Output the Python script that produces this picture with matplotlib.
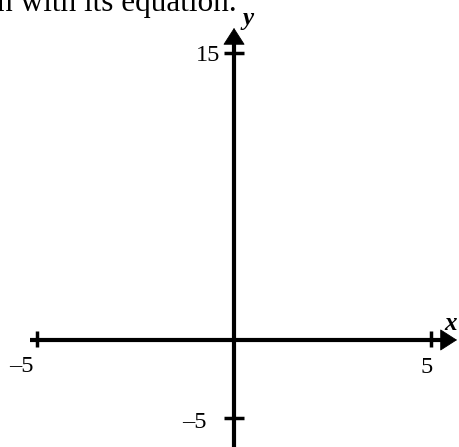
import numpy as np
import matplotlib
matplotlib.use("Agg")
import matplotlib.pyplot as plt

# axis ticks and labels
x_ticks = [-5, 5]
x_tick_labels = ["\u20135", "5"]
y_ticks = [15, -5]
y_tick_labels = ["15", "\u20135"]
x_range = [-5.94, 5.71]
y_range = [-6.86, 17.77]
x_line = [-5.17, 5.4]     # axis line ends
y_line = [-6.9, 15.8]
x_tip = 5.66              # arrow tips
y_tip = 16.31

# the worksheet grid is not to scale: below zero is squeezed
neg_ratio = 0.8155

def fwd(y):
    y = np.asarray(y, dtype=float)
    return np.where(y >= 0, y, y * neg_ratio)

def inv(y):
    y = np.asarray(y, dtype=float)
    return np.where(y >= 0, y, y / neg_ratio)

plt.rcParams['font.family'] = ['Liberation Serif', 'DejaVu Serif']

fig = plt.figure(figsize=(4.59, 4.47), dpi=100)
ax = fig.add_axes([0, 0, 1, 1])
ax.set_yscale('function', functions=(fwd, inv))
ax.set_xlim(x_range)
ax.set_ylim(y_range)
ax.axis('off')

lw = 3.0
# axis lines
ax.plot(x_line, [0, 0], color='black', lw=lw, solid_capstyle='butt')
ax.plot([0, 0], y_line, color='black', lw=lw, solid_capstyle='butt')

# arrow heads, drawn on a short shaft hidden inside the line
head = '-|>,head_length=0.56,head_width=0.36'
ax.annotate('', xy=(x_tip, 0), xytext=(x_line[1] - 0.3, 0),
            arrowprops=dict(arrowstyle=head, lw=0.6, color='black',
                            mutation_scale=20, shrinkA=0, shrinkB=0))
ax.annotate('', xy=(0, y_tip), xytext=(0, y_line[1] - 0.6),
            arrowprops=dict(arrowstyle=head, lw=0.6, color='black',
                            mutation_scale=20, shrinkA=0, shrinkB=0))

# tick marks
ax.vlines(x_ticks, -0.47, 0.47, color='black', lw=2.5)
for yt in y_ticks:
    ax.hlines(yt, -0.25, 0.25, color='black', lw=2.5)

fs = 17.5
# x tick labels
x_offsets = [(-11.5, -19), (-3, -19.5)]
for xt, lab, off in zip(x_ticks, x_tick_labels, x_offsets):
    ax.annotate(lab, xy=(xt, 0), xytext=off, textcoords='offset points',
                ha='center', va='center', fontsize=fs)
# y tick labels
y_offsets = [(-19, -2), (-28.5, -3)]
for yt, lab, off in zip(y_ticks, y_tick_labels, y_offsets):
    ax.annotate(lab, xy=(0, yt), xytext=off, textcoords='offset points',
                ha='center', va='center', fontsize=fs)

# axis names
ax.annotate('x', xy=(x_tip, 0), xytext=(-5, 12), textcoords='offset points',
            ha='center', va='center', fontsize=18, style='italic', weight='bold')
ax.annotate('y', xy=(0, y_tip), xytext=(10, 6.5), textcoords='offset points',
            ha='center', va='center', fontsize=18, style='italic', weight='bold')

# leftover line of the worksheet question above the chart
fig.text(-0.006, 1 - 11 / 447, "n with its equation.", fontsize=22.5,
         ha='left', va='baseline')

fig.savefig('out.png', dpi=100)
